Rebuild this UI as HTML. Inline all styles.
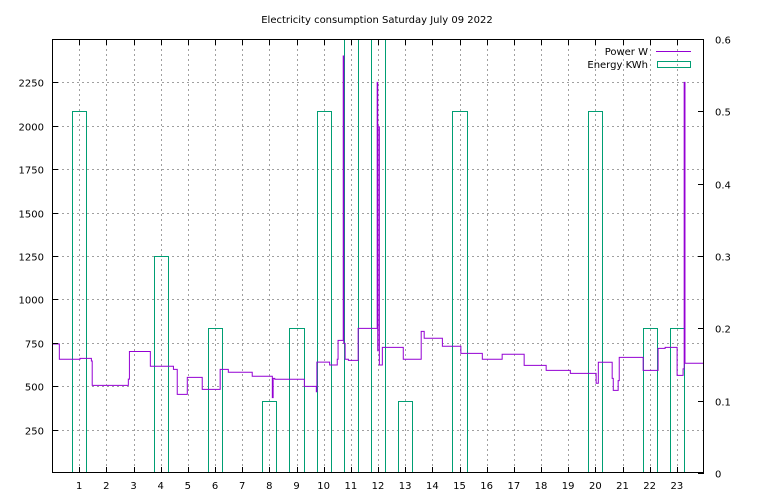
<!DOCTYPE html>
<html><head><meta charset="utf-8"><style>
html,body{margin:0;padding:0;background:#fff;}
svg{display:block;font-family:"DejaVu Sans","Liberation Sans",sans-serif;font-size:10px;}
</style></head><body>
<svg id="chart" width="768" height="500" viewBox="0 0 768 500" xmlns="http://www.w3.org/2000/svg">
<rect x="0" y="0" width="768" height="500" fill="#fff"/>
<text x="377" y="23" text-anchor="middle" fill="#000">Electricity consumption Saturday July 09 2022</text>
<g id="grid"></g>
<g id="bars"></g>
<g id="line"></g>
<g id="axes"></g>
<g>
<text x="648" y="55" text-anchor="end">Power W</text>
<line x1="656" y1="51.5" x2="691" y2="51.5" stroke="#9400d3" stroke-width="1"/>
<text x="648" y="68" text-anchor="end">Energy KWh</text>
<rect x="657.5" y="61.5" width="33" height="6" fill="none" stroke="#009e73" stroke-width="1"/>
</g>
</svg>
<script>
const hourTicks=[1,2,3,4,5,6,7,8,9,10,11,12,13,14,15,16,17,18,19,20,21,22,23];
const powerTicks=[250,500,750,1000,1250,1500,1750,2000,2250];
const energyTicks=[0,0.1,0.2,0.3,0.4,0.5,0.6];
const energyHours=[1,4,6,8,9,10,11,12,13,15,20,22,23];
const energyValues=[0.5,0.3,0.2,0.1,0.2,0.5,0.7,0.7,0.1,0.5,0.5,0.2,0.2];
const powerTimes=[0,0.27,1.03,1.45,1.48,2.81,2.85,3.62,4.47,4.61,4.98,5.53,6.19,6.49,7.37,8.11,8.14,8.2,9.29,9.73,9.75,10.22,10.5,10.53,10.72,10.74,10.79,10.91,11.27,11.97,11.99,12.0,12.05,12.16,12.93,13.59,13.7,14.37,15.05,15.84,16.57,17.38,18.19,19.08,20.03,20.11,20.62,20.66,20.84,20.88,21.76,22.31,22.57,23.01,23.23,23.27,23.3];
const powerValues=[743,655,660,645,505,541,700,615,597,453,551,482,597,580,557,434,545,540,499,468,639,622,655,764,2402,747,655,649,833,2250,704,1994,622,724,655,816,776,730,689,655,684,620,591,574,517,638,545,476,532,666,591,718,724,562,600,2250,632];
const X0=52,X1=704,Y0=473,Y1=39;
function xs(h){return X0+(h/24)*(X1-X0);}
function yp(w){return Y0-(w/2500)*(Y0-Y1);}
function ye(e){return Y0-(e/0.6)*(Y0-Y1);}
const NS='http://www.w3.org/2000/svg';
function mk(tag,attrs,parent){const el=document.createElementNS(NS,tag);for(const k in attrs)el.setAttribute(k,attrs[k]);parent.appendChild(el);return el;}
const grid=document.getElementById('grid'),axes=document.getElementById('axes'),bars=document.getElementById('bars'),line=document.getElementById('line');
const clip=mk('clipPath',{id:'pc'},document.getElementById('chart'));
mk('rect',{x:X0,y:Y1,width:X1-X0,height:Y0-Y1},clip);
hourTicks.forEach(h=>{
  const x=Math.round(xs(h))+0.5;
  const g=mk('line',{x1:x,y1:Y1,x2:x,y2:Y0,stroke:'#a0a0a0','stroke-dasharray':'2,3'},grid);
  
  
  const t=mk('line',{x1:x,y1:Y0,x2:x,y2:Y0-6,stroke:'#000'},axes);
  
  
  const t2=mk('line',{x1:x,y1:Y1,x2:x,y2:Y1+6,stroke:'#000'},axes);
  
  
  const l=mk('text',{x:xs(h),y:Y0+16,'text-anchor':'middle'},axes);l.textContent=h;
  
  
});
powerTicks.forEach(p=>{
  const y=Math.round(yp(p))+0.5;
  const g=mk('line',{x1:X0,y1:y,x2:X1,y2:y,stroke:'#a0a0a0','stroke-dasharray':'2,3'},grid);
  
  
  const t=mk('line',{x1:X0,y1:y,x2:X0+6,y2:y,stroke:'#000'},axes);
  
  
  const l=mk('text',{x:X0-8,y:y+4,'text-anchor':'end'},axes);l.textContent=p;
  
  
});
energyTicks.forEach(e=>{
  const y=Math.round(ye(e))+0.5;
  const t=mk('line',{x1:X1-6,y1:y,x2:X1,y2:y,stroke:'#000'},axes);
  
  
  const l=mk('text',{x:X1+11,y:y+4,'text-anchor':'start'},axes);l.textContent=e===0?'0':e.toFixed(1);
  
  
});
const frame=mk('rect',{x:X0+0.5,y:Y1+0.5,width:X1-X0-1,height:Y0-Y1-1,fill:'none',stroke:'#000'},axes);


energyHours.forEach((h,i)=>{
  const xa=Math.round(xs(h-0.26))+0.5,xb=Math.round(xs(h+0.26))+0.5,yt=Math.round(ye(energyValues[i]))+0.5;
  const b=mk('path',{d:`M${xa},${Y0}V${yt}H${xb}V${Y0}`,fill:'none',stroke:'#009e73','stroke-width':1,'clip-path':'url(#pc)'},bars);
  
  
});
let d=`M${xs(powerTimes[0])},${yp(powerValues[0])}`;
for(let i=1;i<powerTimes.length;i++){d+=`H${xs(powerTimes[i])}V${yp(powerValues[i])}`;}
d+=`H${xs(24)}`;
const pl=mk('path',{d:d,fill:'none',stroke:'#9400d3','stroke-width':1,'clip-path':'url(#pc)'},line);


</script>
</body></html>
